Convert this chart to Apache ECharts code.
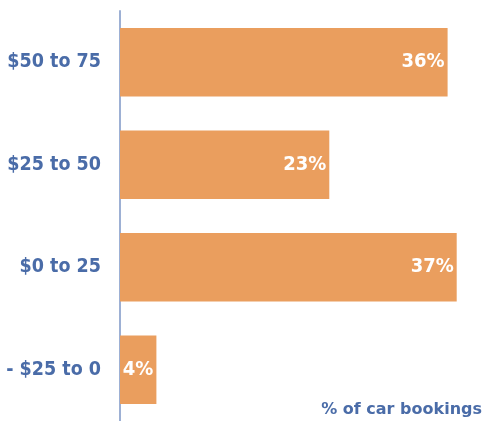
<!DOCTYPE html>
<html><head><meta charset="utf-8">
<script src="https://cdn.jsdelivr.net/npm/echarts@6/dist/echarts.min.js"></script>
<style>html,body{margin:0;padding:0;background:#fff}#c{width:484px;height:421px}</style>
</head><body><div id="c"></div>
<script>
var categories = ['- $25 to 0', '$0 to 25', '$25 to 50', '$50 to 75'];
var values = [4, 37, 23, 36];
var axisTitle = '% of car bookings';

var labelFont = '"DejaVu Sans Condensed", "Liberation Sans Narrow", "Arial Narrow", sans-serif';
var chart = echarts.init(document.getElementById('c'), null, {renderer: 'canvas'});
chart.setOption({
  animation: false,
  grid: {left: 120, right: 0, top: 11, bottom: 0, containLabel: false, outerBoundsMode: 'none'},
  xAxis: {type: 'value', min: 0, max: 40, show: false},
  yAxis: {
    type: 'category', data: categories,
    axisLine: {show: true, lineStyle: {color: '#9DB0D4', width: 2}},
    axisTick: {show: false},
    axisLabel: {margin: 19, color: '#4A6CA8', fontFamily: labelFont, fontWeight: 'bold', fontSize: 19.5}
  },
  graphic: [{
    type: 'text', right: 2, top: 402,
    style: {text: axisTitle, fill: '#4A6CA8', font: 'bold 16px "DejaVu Sans", Verdana, sans-serif'}
  }],
  series: [{
    type: 'bar', data: values, barCategoryGap: '33%',
    itemStyle: {color: '#EA9E5E'},
    label: {show: true, position: 'insideRight', distance: 3, formatter: '{c}%', color: '#fff',
      fontFamily: labelFont, fontWeight: 'bold', fontSize: 20}
  }]
});
</script></body></html>
